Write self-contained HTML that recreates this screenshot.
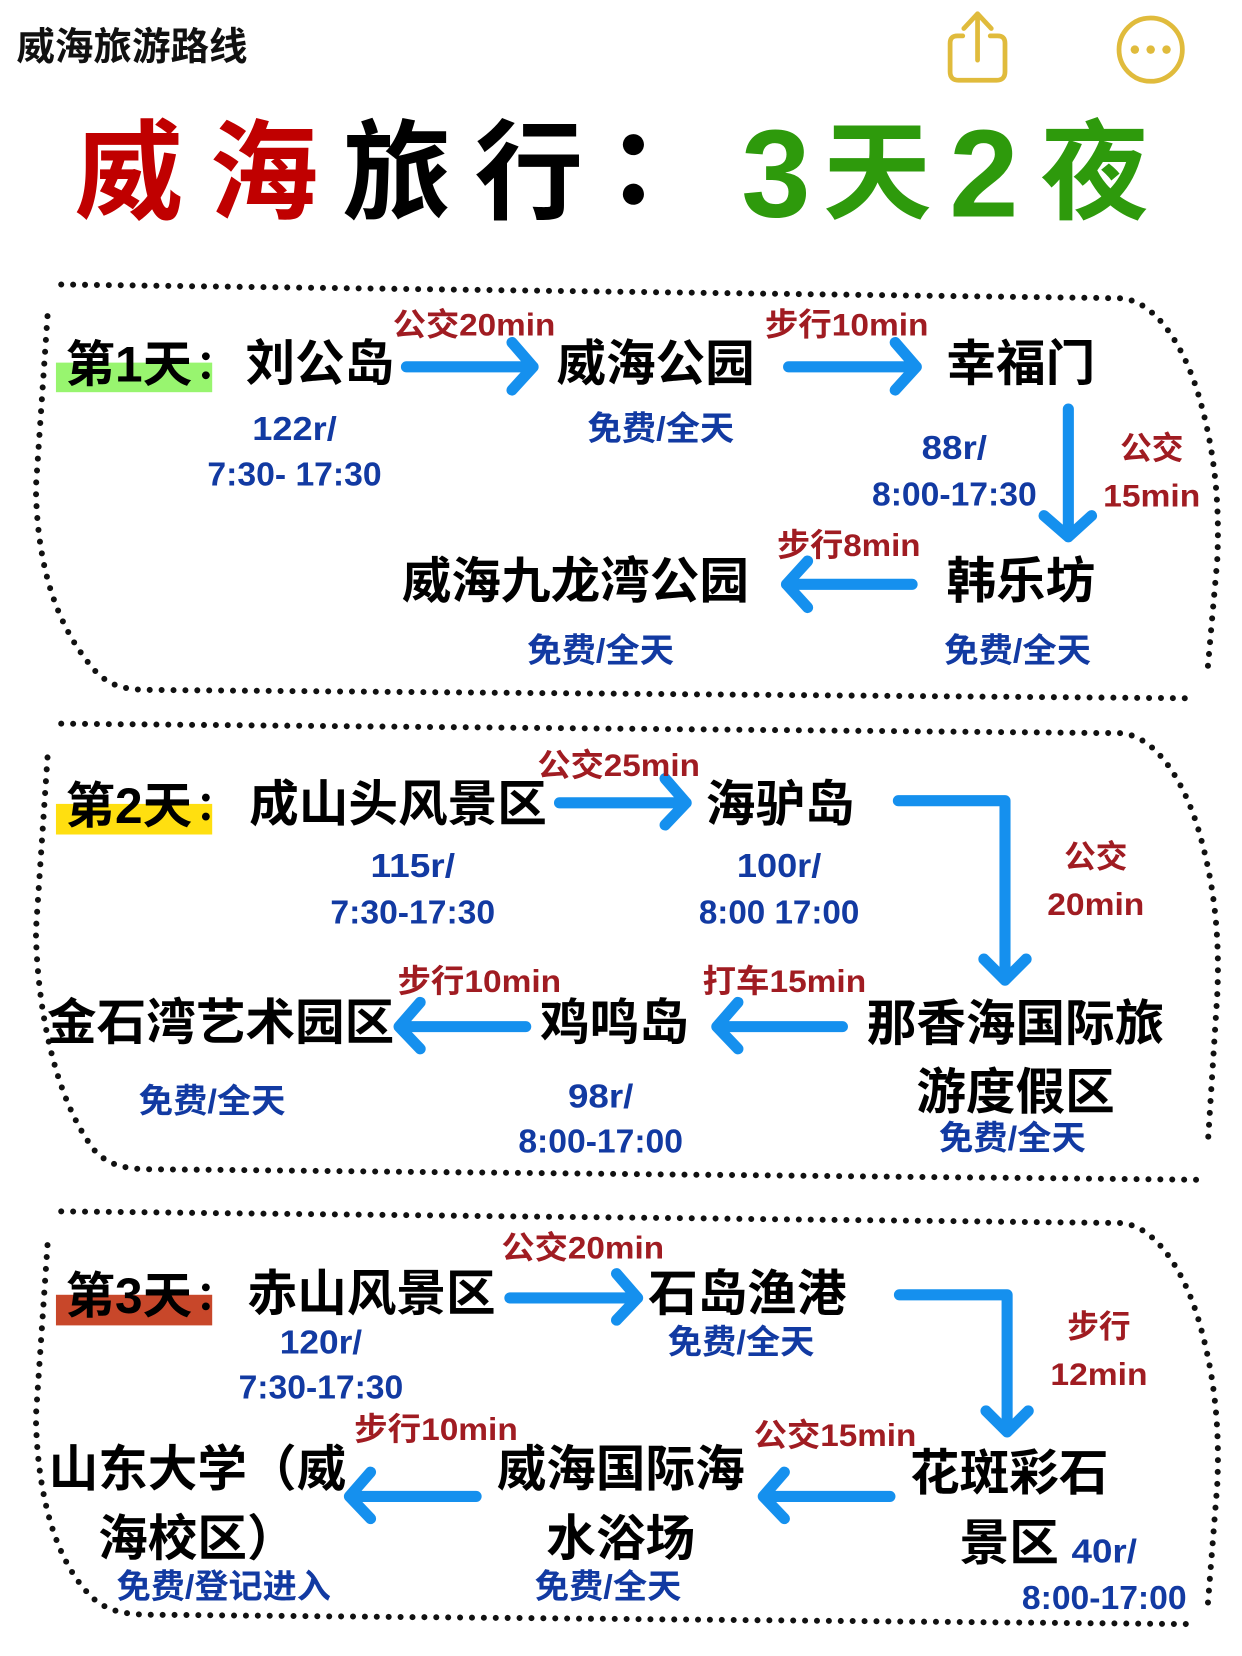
<!DOCTYPE html>
<html><head><meta charset="utf-8">
<style>
html,body{margin:0;padding:0;background:#fff;width:1242px;height:1656px;overflow:hidden}
svg{display:block}
text{font-family:"Liberation Sans","Noto Sans CJK SC",sans-serif;text-anchor:middle;dominant-baseline:central}
.k{font-size:47px;font-weight:700;fill:#000}
.r{font-size:30px;font-weight:700;fill:#a01c22}
.b{font-size:32px;font-weight:700;fill:#123aa2}
.d{fill:none;stroke:#111;stroke-width:5.7;stroke-linecap:round;stroke-dasharray:0 11.27}
.a{fill:none;stroke:#1590ee;stroke-width:10.5;stroke-linecap:round;stroke-linejoin:round}
.t{font-size:103px;font-weight:700}
.n{font-size:118px;font-weight:700}
</style></head><body>
<svg width="1242" height="1656" viewBox="0 0 1176.5 1568.67" xmlns="http://www.w3.org/2000/svg">
<rect width="1176.5" height="1568.67" fill="#fff"/>
<text x="125" y="45" style="font-size:36.5px;font-weight:700" fill="#111">威海旅游路线</text>
<g fill="none" stroke="#e0bb3c" stroke-width="4.5" stroke-linecap="round" stroke-linejoin="round">
<path d="M912 34H907Q900 34 900 41V68Q900 76 908 76H944Q952 76 952 68V41Q952 34 945 34H938"/>
<path d="M926 57V13M913 27L926 13L939 27"/>
<circle cx="1090" cy="47" r="30"/>
</g>
<g fill="#e0bb3c"><circle cx="1075" cy="47" r="4"/><circle cx="1090" cy="47" r="4"/><circle cx="1105" cy="47" r="4"/></g>

<text class="t" x="122" y="165" fill="#c00000">威</text>
<text class="t" x="250" y="165" fill="#c00000">海</text>
<text class="t" x="376" y="165" fill="#000">旅</text>
<text class="t" x="501" y="165" fill="#000">行</text>
<circle cx="600" cy="137" r="10" fill="#000"/><circle cx="600" cy="184" r="10" fill="#000"/>
<text class="n" x="735" y="165" fill="#2e9a0c">3</text>
<text class="t" x="831" y="165" fill="#2e9a0c">天</text>
<text class="n" x="932" y="165" fill="#2e9a0c">2</text>
<text class="t" x="1037" y="165" fill="#2e9a0c">夜</text>

<g transform="translate(1,1.5)">
<path class="d" d="M57 268L1060 281C1095 283 1122 330 1135 375C1148 420 1155 470 1152 530L1143 632"/>
<path class="d" d="M44 298L33 460C34 530 50 590 90 635C105 650 120 651 135 652L1132 660"/>
<path class="d" d="M57 684L1060 693C1095 695 1122 742 1135 787C1148 832 1155 882 1152 942L1143 1084"/>
<path class="d" d="M44 716L33 880C34 950 50 1040 90 1090C105 1104 120 1105 135 1106L1132 1116"/>
<path class="d" d="M57 1146L1060 1157C1095 1159 1122 1206 1135 1251C1148 1296 1155 1346 1152 1406L1143 1520"/>
<path class="d" d="M44 1178L33 1340C34 1410 50 1480 90 1515C105 1526 120 1527 135 1528L1132 1537"/>

<rect x="52" y="342" width="148" height="28" fill="#98f56f"/>
<rect x="52" y="760" width="148" height="29" fill="#ffdf10"/>
<rect x="52" y="1225" width="148" height="29" fill="#c8472a"/>

<g class="a">
<path d="M384 346H504M484 323L504 346L484 368"/>
<path d="M746 346H867M847 323L867 346L847 368"/>
<path d="M1011 386V507M988 487L1011 507L1033 487"/>
<path d="M863 552H744M764 530L744 552L764 574"/>
<path d="M529 759H649M629 736L649 759L629 780"/>
<path d="M850 757H951V927M931 907L951 927L971 907"/>
<path d="M797 971H678M698 948L678 971L698 992"/>
<path d="M497 971H377M397 948L377 971L397 992"/>
<path d="M482 1228H603M583 1205L603 1228L583 1249"/>
<path d="M851 1225H953V1355M933 1335L953 1355L973 1335"/>
<path d="M842 1416H722M742 1393L722 1416L742 1437"/>
<path d="M450 1416H330M350 1393L330 1416L350 1437"/>
</g>

<text class="k" x="121" y="344" textLength="120" lengthAdjust="spacingAndGlyphs">第1天</text>
<circle cx="194" cy="336" r="3.7"/><circle cx="194" cy="354" r="3.7"/>
<text class="k" x="302" y="343">刘公岛</text>
<text class="k" x="620" y="343">威海公园</text>
<text class="k" x="966" y="343">幸福门</text>
<text class="k" x="544" y="549">威海九龙湾公园</text>
<text class="k" x="966" y="549">韩乐坊</text>
<text class="k" x="121" y="762" textLength="120" lengthAdjust="spacingAndGlyphs">第2天</text>
<circle cx="194" cy="754" r="3.7"/><circle cx="194" cy="772" r="3.7"/>
<text class="k" x="376" y="760">成山头风景区</text>
<text class="k" x="738" y="760">海驴岛</text>
<text class="k" x="961" y="968">那香海国际旅</text>
<text class="k" x="961" y="1033">游度假区</text>
<text class="k" x="581" y="967">鸡鸣岛</text>
<text class="k" x="208" y="967">金石湾艺术园区</text>
<text class="k" x="121" y="1226" textLength="120" lengthAdjust="spacingAndGlyphs">第3天</text>
<circle cx="194" cy="1218" r="3.7"/><circle cx="194" cy="1236" r="3.7"/>
<text class="k" x="351" y="1224">赤山风景区</text>
<text class="k" x="707" y="1224">石岛渔港</text>
<text class="k" x="955" y="1394">花斑彩石</text>
<text class="k" x="955" y="1460">景区</text>
<text class="k" x="587" y="1390">威海国际海</text>
<text class="k" x="587" y="1456">水浴场</text>
<text class="k" x="186" y="1390">山东大学（威</text>
<text class="k" x="92" y="1456" style="text-anchor:start">海校区）</text>

<text class="r" x="448" y="306" textLength="154" lengthAdjust="spacingAndGlyphs">公交20min</text>
<text class="r" x="801" y="306" textLength="155" lengthAdjust="spacingAndGlyphs">步行10min</text>
<text class="r" x="1090" y="423">公交</text>
<text class="r" x="1090" y="468" textLength="92" lengthAdjust="spacingAndGlyphs">15min</text>
<text class="r" x="803" y="515" textLength="136" lengthAdjust="spacingAndGlyphs">步行8min</text>
<text class="r" x="585" y="723" textLength="154" lengthAdjust="spacingAndGlyphs">公交25min</text>
<text class="r" x="1037" y="810">公交</text>
<text class="r" x="1037" y="855" textLength="92" lengthAdjust="spacingAndGlyphs">20min</text>
<text class="r" x="453" y="928" textLength="155" lengthAdjust="spacingAndGlyphs">步行10min</text>
<text class="r" x="742" y="928" textLength="155" lengthAdjust="spacingAndGlyphs">打车15min</text>
<text class="r" x="551" y="1180" textLength="154" lengthAdjust="spacingAndGlyphs">公交20min</text>
<text class="r" x="1040" y="1255">步行</text>
<text class="r" x="1040" y="1300" textLength="92" lengthAdjust="spacingAndGlyphs">12min</text>
<text class="r" x="412" y="1352" textLength="155" lengthAdjust="spacingAndGlyphs">步行10min</text>
<text class="r" x="790" y="1358" textLength="154" lengthAdjust="spacingAndGlyphs">公交15min</text>

<text class="b" x="278" y="405" textLength="80" lengthAdjust="spacingAndGlyphs">122r/</text>
<text class="b" x="278" y="448" textLength="165" lengthAdjust="spacingAndGlyphs">7:30- 17:30</text>
<text class="b" x="625" y="405" textLength="139" lengthAdjust="spacingAndGlyphs">免费/全天</text>
<text class="b" x="903" y="423" textLength="62" lengthAdjust="spacingAndGlyphs">88r/</text>
<text class="b" x="903" y="467" textLength="156" lengthAdjust="spacingAndGlyphs">8:00-17:30</text>
<text class="b" x="568" y="615" textLength="139" lengthAdjust="spacingAndGlyphs">免费/全天</text>
<text class="b" x="963" y="615" textLength="139" lengthAdjust="spacingAndGlyphs">免费/全天</text>
<text class="b" x="390" y="819" textLength="80" lengthAdjust="spacingAndGlyphs">115r/</text>
<text class="b" x="390" y="863" textLength="156" lengthAdjust="spacingAndGlyphs">7:30-17:30</text>
<text class="b" x="737" y="819" textLength="80" lengthAdjust="spacingAndGlyphs">100r/</text>
<text class="b" x="737" y="863" textLength="152" lengthAdjust="spacingAndGlyphs">8:00 17:00</text>
<text class="b" x="200" y="1042" textLength="139" lengthAdjust="spacingAndGlyphs">免费/全天</text>
<text class="b" x="568" y="1037" textLength="62" lengthAdjust="spacingAndGlyphs">98r/</text>
<text class="b" x="568" y="1080" textLength="156" lengthAdjust="spacingAndGlyphs">8:00-17:00</text>
<text class="b" x="958" y="1077" textLength="139" lengthAdjust="spacingAndGlyphs">免费/全天</text>
<text class="b" x="303" y="1270" textLength="78" lengthAdjust="spacingAndGlyphs">120r/</text>
<text class="b" x="303" y="1313" textLength="156" lengthAdjust="spacingAndGlyphs">7:30-17:30</text>
<text class="b" x="701" y="1270" textLength="139" lengthAdjust="spacingAndGlyphs">免费/全天</text>
<text class="b" x="1045" y="1468" textLength="62" lengthAdjust="spacingAndGlyphs">40r/</text>
<text class="b" x="1045" y="1512" textLength="156" lengthAdjust="spacingAndGlyphs">8:00-17:00</text>
<text class="b" x="211" y="1502" textLength="203" lengthAdjust="spacingAndGlyphs">免费/登记进入</text>
<text class="b" x="575" y="1502" textLength="139" lengthAdjust="spacingAndGlyphs">免费/全天</text>
</g>
</svg>
</body></html>
